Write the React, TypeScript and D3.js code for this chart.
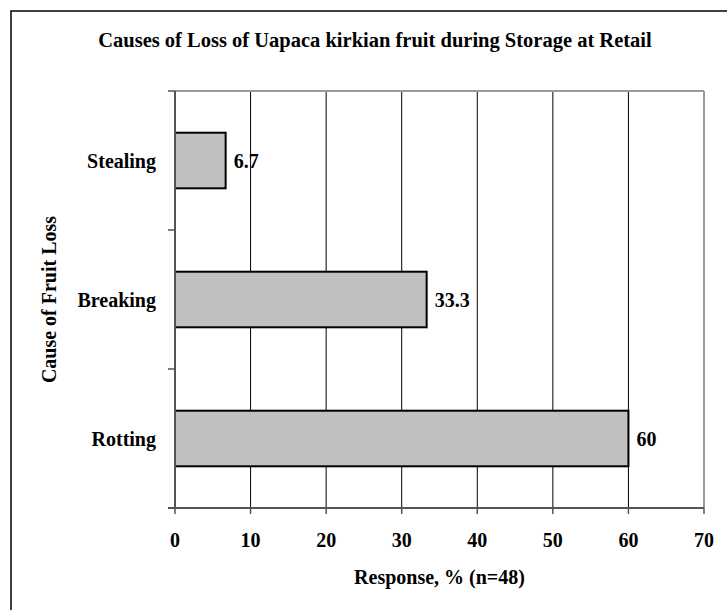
import React from "react";
import * as d3 from "d3";

const categories = ["Stealing", "Breaking", "Rotting"];
const values = [6.7, 33.3, 60];
const valueLabels = ["6.7", "33.3", "60"];
const xTicks = [0, 10, 20, 30, 40, 50, 60, 70];
const title = "Causes of Loss of Uapaca kirkian fruit during Storage at Retail";
const xTitle = "Response, % (n=48)";
const yTitle = "Cause of Fruit Loss";

const W = 727;
const H = 610;
const plot = { left: 175, right: 704, top: 91, bottom: 508 };
const FONT = "'Liberation Serif', 'Times New Roman', serif";
const FS = 20;

export default function App() {
  const x = d3.scaleLinear().domain([0, 70]).range([plot.left, plot.right]);
  const y = d3
    .scaleBand<string>()
    .domain(categories)
    .range([plot.top, plot.bottom])
    .paddingInner(0)
    .paddingOuter(0);
  const bw = y.bandwidth();
  const barH = bw / 2.5;
  const boundaries = d3.range(categories.length + 1).map((i) => plot.top + i * bw);

  return (
    <svg
      width={W}
      height={H}
      style={{ position: "absolute", left: 0, top: 0, fontFamily: FONT }}
    >
      <rect x={0} y={0} width={W} height={H} fill="#fff" />
      <rect x={11} y={11} width={740} height={620} fill="none" stroke="#000" strokeWidth={1.5} />
      <text x={375} y={47} textAnchor="middle" fontWeight="bold" fontSize={20.5}>
        {title}
      </text>
      {/* gridlines */}
      {xTicks.slice(1, -1).map((t) => (
        <line key={"g" + t} x1={x(t)} x2={x(t)} y1={plot.top} y2={plot.bottom} stroke="#000" strokeWidth={1} />
      ))}
      {/* plot border top/right */}
      <line x1={plot.left} x2={plot.right} y1={plot.top} y2={plot.top} stroke="#9a9a9a" strokeWidth={2} />
      <line x1={plot.right} x2={plot.right} y1={plot.top} y2={plot.bottom} stroke="#9a9a9a" strokeWidth={2} />
      {/* bars */}
      {categories.map((c, i) => {
        const cy = (y(c) as number) + bw / 2;
        return (
          <g key={c}>
            <rect
              x={x(0)}
              y={cy - barH / 2}
              width={x(values[i]) - x(0)}
              height={barH}
              fill="#c0c0c0"
              stroke="#000"
              strokeWidth={2}
            />
            <text x={x(values[i]) + 8} y={cy} dy="0.35em" fontWeight="bold" fontSize={FS}>
              {valueLabels[i]}
            </text>
            <text x={156} y={cy} dy="0.35em" textAnchor="end" fontWeight="bold" fontSize={FS}>
              {c}
            </text>
          </g>
        );
      })}
      {/* axes */}
      <line x1={plot.left} x2={plot.left} y1={plot.top} y2={plot.bottom} stroke="#555" strokeWidth={2} />
      <line x1={plot.left - 7} x2={plot.right} y1={plot.bottom} y2={plot.bottom} stroke="#555" strokeWidth={2} />
      {boundaries.map((b, i) => (
        <line key={"yt" + i} x1={plot.left - 7} x2={plot.left} y1={b} y2={b} stroke="#555" strokeWidth={1.5} />
      ))}
      {xTicks.map((t) => (
        <g key={"xt" + t}>
          <line x1={x(t)} x2={x(t)} y1={plot.bottom} y2={plot.bottom + 6} stroke="#555" strokeWidth={1.5} />
          <text x={x(t)} y={540} dy="0.35em" textAnchor="middle" fontWeight="bold" fontSize={FS}>
            {t}
          </text>
        </g>
      ))}
      <text x={(plot.left + plot.right) / 2} y={577} dy="0.35em" textAnchor="middle" fontWeight="bold" fontSize={FS}>
        {xTitle}
      </text>
      <text
        transform={`translate(56, ${(plot.top + plot.bottom) / 2}) rotate(-90)`}
        textAnchor="middle"
        fontWeight="bold"
        fontSize={FS}
      >
        {yTitle}
      </text>
    </svg>
  );
}
